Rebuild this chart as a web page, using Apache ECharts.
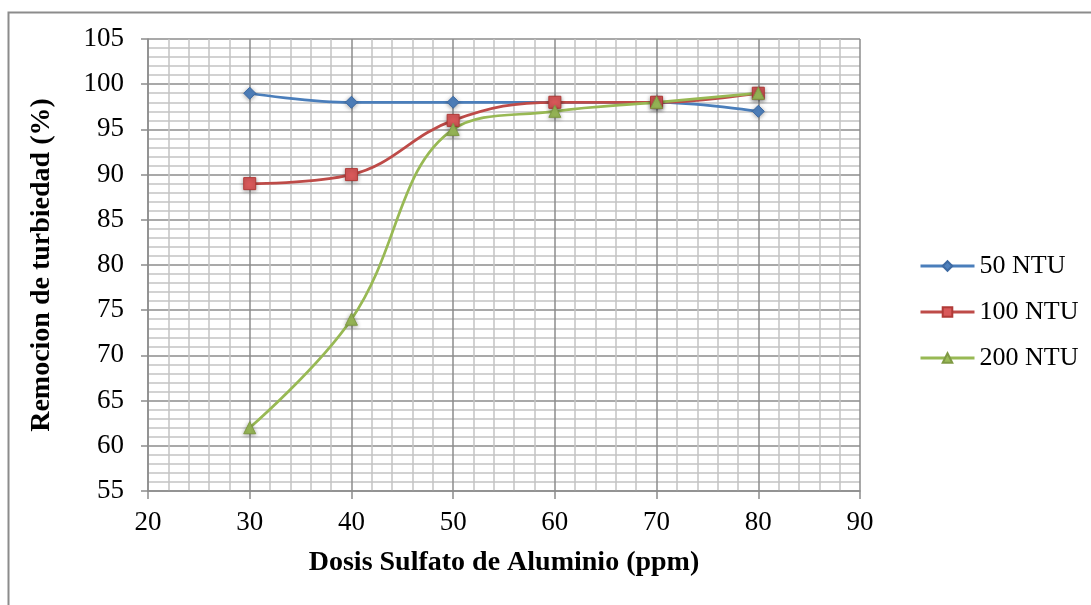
<!DOCTYPE html>
<html>
<head>
<meta charset="utf-8">
<script src="https://cdn.jsdelivr.net/npm/echarts@6/dist/echarts.min.js"></script>
<style>
html,body{margin:0;padding:0;background:#fff;}
#c{width:1091px;height:605px;}
</style>
</head>
<body>
<div id="c"></div>
<script>
const doses = [30, 40, 50, 60, 70, 80];
const ntu50 = [99, 98, 98, 98, 98, 97];
const ntu100 = [89, 90, 96, 98, 98, 99];
const ntu200 = [62, 74, 95, 97, 98, 99];
const seriesNames = ['50 NTU', '100 NTU', '200 NTU'];
const xTitle = 'Dosis Sulfato de Aluminio (ppm)';
const yTitle = 'Remocion de turbiedad (%)';

const FONT = '"Liberation Serif", "DejaVu Serif", serif';
const pair = (arr) => doses.map((d, i) => [d, arr[i]]);

const chart = echarts.init(document.getElementById('c'), null, {renderer: 'canvas'});
chart.setOption({
  animation: false,
  backgroundColor: '#fff',
  graphic: [{
    type: 'rect', left: 6, top: 10, silent: true,
    shape: {width: 1200, height: 700},
    style: {fill: 'none', stroke: '#8c8c8c', lineWidth: 2}
  }],
  grid: {left: 148, top: 39, right: 231, bottom: 114, containLabel: false},
  legend: {
    orient: 'vertical', left: 914, top: 248,
    itemWidth: 54, itemHeight: 12, itemGap: 20,
    lineStyle: {width: 3},
    textStyle: {fontFamily: FONT, fontSize: 26, color: '#000', lineHeight: 26},
    data: seriesNames
  },
  xAxis: {
    type: 'value', min: 20, max: 90, interval: 10,
    name: xTitle, nameLocation: 'middle', nameGap: 58,
    nameTextStyle: {fontFamily: FONT, fontSize: 28, fontWeight: 'bold', color: '#000'},
    axisLine: {show: true, lineStyle: {color: '#8c8c8c', width: 1.5}},
    axisTick: {show: true, length: 8, lineStyle: {color: '#8c8c8c', width: 1.5}},
    axisLabel: {fontFamily: FONT, fontSize: 27, color: '#000', margin: 18},
    splitLine: {show: true, lineStyle: {color: '#8c8c8c', width: 1.5}},
    minorTick: {show: false, splitNumber: 5},
    minorSplitLine: {show: true, lineStyle: {color: '#c3c3c3', width: 1.5}}
  },
  yAxis: {
    type: 'value', min: 55, max: 105, interval: 5,
    name: yTitle, nameLocation: 'middle', nameGap: 92, nameRotate: 90,
    nameTextStyle: {fontFamily: FONT, fontSize: 28, fontWeight: 'bold', color: '#000'},
    axisLine: {show: true, lineStyle: {color: '#8c8c8c', width: 1.5}},
    axisTick: {show: true, length: 7, lineStyle: {color: '#8c8c8c', width: 1.5}},
    axisLabel: {fontFamily: FONT, fontSize: 27, color: '#000', margin: 24},
    splitLine: {show: true, lineStyle: {color: '#8c8c8c', width: 1.5}},
    minorTick: {show: false, splitNumber: 5},
    minorSplitLine: {show: true, lineStyle: {color: '#c3c3c3', width: 1.5}}
  },
  series: [
    {
      name: seriesNames[0], type: 'line', data: pair(ntu50), smooth: 0.4,
      symbol: 'diamond', symbolSize: 12,
      lineStyle: {color: '#4a7ebb', width: 2.75},
      itemStyle: {color: '#4f81bd', borderColor: '#3d6aa3', borderWidth: 1, shadowBlur: 4, shadowColor: 'rgba(0,0,0,0.35)', shadowOffsetY: 1}
    },
    {
      name: seriesNames[1], type: 'line', data: pair(ntu100), smooth: 0.4,
      symbol: 'rect', symbolSize: 12,
      lineStyle: {color: '#be4b48', width: 2.75},
      itemStyle: {color: '#d9595a', borderColor: '#b03a37', borderWidth: 1, shadowBlur: 4, shadowColor: 'rgba(0,0,0,0.35)', shadowOffsetY: 1}
    },
    {
      name: seriesNames[2], type: 'line', data: pair(ntu200), smooth: 0.4,
      symbol: 'triangle', symbolSize: 12,
      lineStyle: {color: '#98b954', width: 2.75},
      itemStyle: {color: '#9bbb59', borderColor: '#7f9a44', borderWidth: 1, shadowBlur: 4, shadowColor: 'rgba(0,0,0,0.35)', shadowOffsetY: 1}
    }
  ]
});
</script>
</body>
</html>
